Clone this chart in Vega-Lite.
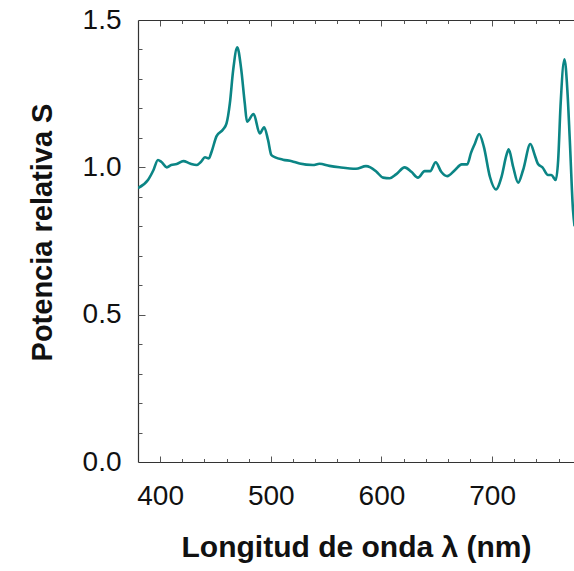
{
  "$schema": "https://vega.github.io/schema/vega-lite/v6.json",
  "width": 436,
  "height": 442,
  "autosize": "none",
  "padding": {"left": 138, "top": 20, "right": 0, "bottom": 109},
  "background": "white",
  "config": {
    "view": {"stroke": null},
    "font": "Liberation Sans",
    "axis": {
      "domainColor": "#333333",
      "domainWidth": 1.2,
      "tickColor": "#555555",
      "tickWidth": 1,
      "labelFont": "Liberation Sans",
      "labelFontSize": 28,
      "labelColor": "#111111",
      "titleFont": "Liberation Sans",
      "titleFontSize": 29,
      "titleFontWeight": "bold",
      "titleColor": "#111111",
      "grid": false,
      "labelFlush": false,
      "labelOverlap": false
    }
  },
  "data": {
    "values": [
      {"wl": 380, "s": 0.930}, {"wl": 389, "s": 0.957}, {"wl": 394, "s": 0.991},
      {"wl": 398, "s": 1.025}, {"wl": 401, "s": 1.019}, {"wl": 406, "s": 1.000},
      {"wl": 410, "s": 1.008}, {"wl": 415, "s": 1.011}, {"wl": 421, "s": 1.021},
      {"wl": 427, "s": 1.013}, {"wl": 433, "s": 1.008}, {"wl": 437, "s": 1.019},
      {"wl": 440.5, "s": 1.034}, {"wl": 444, "s": 1.030}, {"wl": 446.5, "s": 1.053},
      {"wl": 451, "s": 1.106}, {"wl": 457, "s": 1.129}, {"wl": 460, "s": 1.149},
      {"wl": 463, "s": 1.217}, {"wl": 466, "s": 1.330}, {"wl": 469.7, "s": 1.407},
      {"wl": 473, "s": 1.341}, {"wl": 476.5, "s": 1.217}, {"wl": 478.5, "s": 1.155},
      {"wl": 484.5, "s": 1.181}, {"wl": 490, "s": 1.115}, {"wl": 494, "s": 1.136},
      {"wl": 497.5, "s": 1.093}, {"wl": 500.5, "s": 1.042}, {"wl": 504, "s": 1.034},
      {"wl": 511, "s": 1.026}, {"wl": 519, "s": 1.021}, {"wl": 526, "s": 1.013},
      {"wl": 538, "s": 1.008}, {"wl": 544, "s": 1.012}, {"wl": 553, "s": 1.005},
      {"wl": 562, "s": 1.000}, {"wl": 577, "s": 0.995}, {"wl": 586, "s": 1.004},
      {"wl": 590, "s": 1.000}, {"wl": 595.5, "s": 0.985}, {"wl": 601.5, "s": 0.965},
      {"wl": 607.5, "s": 0.963}, {"wl": 613.5, "s": 0.977}, {"wl": 621, "s": 1.000},
      {"wl": 627, "s": 0.985}, {"wl": 633, "s": 0.965}, {"wl": 639, "s": 0.987},
      {"wl": 644, "s": 0.987}, {"wl": 649, "s": 1.017}, {"wl": 654, "s": 0.985},
      {"wl": 659.5, "s": 0.970}, {"wl": 666.5, "s": 0.991}, {"wl": 672.5, "s": 1.010},
      {"wl": 677.5, "s": 1.010}, {"wl": 681, "s": 1.050}, {"wl": 684.5, "s": 1.081},
      {"wl": 688.3, "s": 1.113}, {"wl": 692.5, "s": 1.070}, {"wl": 698, "s": 0.968},
      {"wl": 703.4, "s": 0.925}, {"wl": 708.5, "s": 0.968}, {"wl": 713, "s": 1.042},
      {"wl": 715, "s": 1.061}, {"wl": 719, "s": 1.002}, {"wl": 723.5, "s": 0.948},
      {"wl": 728, "s": 0.991}, {"wl": 734.6, "s": 1.079}, {"wl": 738.5, "s": 1.042},
      {"wl": 741.5, "s": 1.011}, {"wl": 745.5, "s": 1.000}, {"wl": 750.5, "s": 0.974},
      {"wl": 753.5, "s": 0.974}, {"wl": 757.5, "s": 0.957}, {"wl": 759.7, "s": 1.025},
      {"wl": 761.8, "s": 1.206}, {"wl": 765.4, "s": 1.367}, {"wl": 768, "s": 1.262},
      {"wl": 770.2, "s": 1.093}, {"wl": 773.1, "s": 0.855}, {"wl": 774.5, "s": 0.80}
    ]
  },
  "layer": [
    {
      "mark": {"type": "line", "color": "#0b8585", "strokeWidth": 2.6, "clip": true, "interpolate": "monotone"},
      "encoding": {
        "x": {
          "field": "wl", "type": "quantitative",
          "scale": {"domain": [380, 774], "nice": false, "zero": false},
          "axis": {
            "orient": "bottom",
            "title": "Longitud de onda λ (nm)",
            "titleFontSize": 30,
            "values": [400, 500, 600, 700],
            "ticks": false,
            "labelPadding": 20,
            "titlePadding": 22
          }
        },
        "y": {
          "field": "s", "type": "quantitative",
          "scale": {"domain": [0, 1.5], "nice": false, "zero": false},
          "axis": {
            "orient": "left",
            "title": "Potencia relativa S",
            "values": [0, 0.5, 1.0, 1.5],
            "format": ".1f",
            "ticks": false,
            "labelPadding": 17,
            "titlePadding": 25,
            "titleY": 212
          }
        }
      }
    },
    {
      "mark": {"type": "line", "opacity": 0},
      "encoding": {
        "x": {
          "field": "wl", "type": "quantitative",
          "axis": {"orient": "bottom", "title": null, "labels": false, "domain": false,
                   "values": [400, 500, 600, 700], "tickSize": -6}
        },
        "y": {
          "field": "s", "type": "quantitative",
          "axis": {"orient": "left", "title": null, "labels": false, "domain": false,
                   "values": [0.5, 1.0], "tickSize": -7}
        }
      }
    },
    {
      "mark": {"type": "line", "opacity": 0},
      "encoding": {
        "x": {
          "field": "wl", "type": "quantitative",
          "axis": {"orient": "bottom", "title": null, "labels": false, "domain": false,
                   "values": [420, 440, 460, 480, 520, 540, 560, 580, 620, 640, 660, 680, 720, 740, 760], "tickSize": -3.5}
        },
        "y": {
          "field": "s", "type": "quantitative",
          "axis": {"orient": "left", "title": null, "labels": false, "domain": false,
                   "values": [0.1, 0.2, 0.3, 0.4, 0.6, 0.7, 0.8, 0.9, 1.1, 1.2, 1.3, 1.4], "tickSize": -4}
        }
      }
    },
    {
      "mark": {"type": "line", "opacity": 0},
      "encoding": {
        "x": {
          "field": "wl", "type": "quantitative",
          "axis": {"orient": "top", "title": null, "labels": false, "domain": true,
                   "values": [400, 500, 600, 700], "tickSize": -6}
        },
        "y": {"field": "s", "type": "quantitative", "axis": null}
      }
    },
    {
      "mark": {"type": "line", "opacity": 0},
      "encoding": {
        "x": {
          "field": "wl", "type": "quantitative",
          "axis": {"orient": "top", "title": null, "labels": false, "domain": false,
                   "values": [420, 440, 460, 480, 520, 540, 560, 580, 620, 640, 660, 680, 720, 740, 760], "tickSize": -3.5}
        },
        "y": {"field": "s", "type": "quantitative", "axis": null}
      }
    }
  ],
  "resolve": {"axis": {"x": "independent", "y": "independent"}}
}
